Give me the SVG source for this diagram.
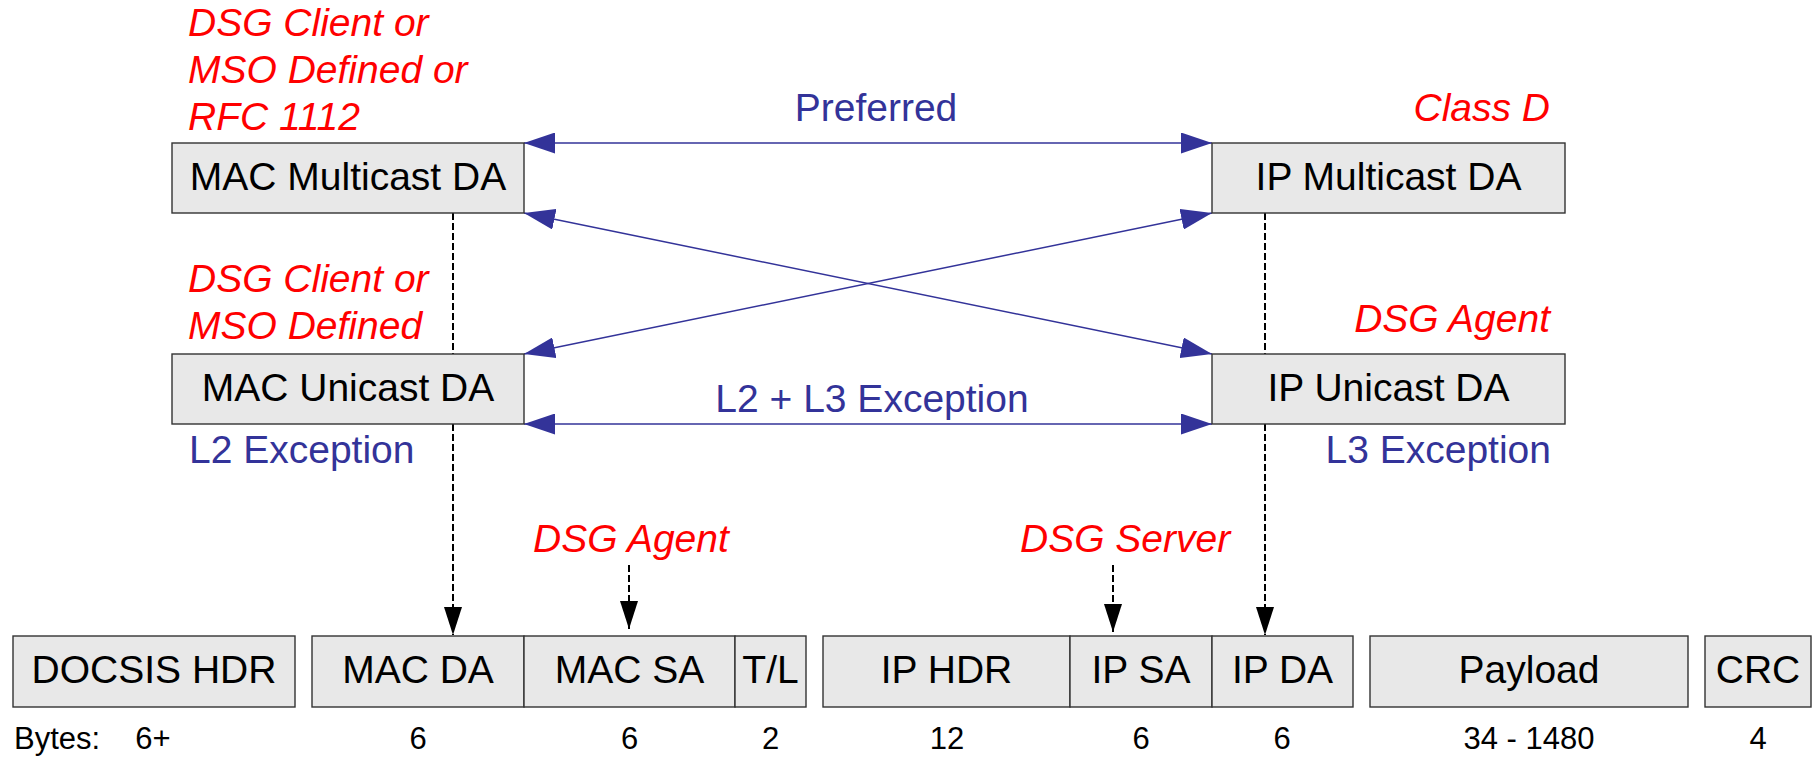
<svg xmlns="http://www.w3.org/2000/svg" width="1818" height="759" viewBox="0 0 1818 759">
<style>
.box{fill:#e8e8e8;stroke:#333;stroke-width:1.4}
.t{font-family:"Liberation Sans",Arial,sans-serif;font-size:39px;fill:#000;text-anchor:middle}
.red{font-family:"Liberation Sans",Arial,sans-serif;font-size:39px;font-style:italic;fill:#ff0000}
.blue{font-family:"Liberation Sans",Arial,sans-serif;font-size:39px;fill:#333399}
.num{font-family:"Liberation Sans",Arial,sans-serif;font-size:31px;fill:#000;text-anchor:middle}
.lead{text-anchor:start}
.bl{stroke:#333399;stroke-width:1.5;fill:none;marker-start:url(#ab);marker-end:url(#ab)}
.dash{stroke:#000;stroke-width:2;stroke-dasharray:7 3;fill:none}
.darr{stroke:#000;stroke-width:2;stroke-dasharray:7 3;fill:none;marker-end:url(#ak)}
</style>
<defs>
<marker id="ab" viewBox="0 0 31 21" refX="31" refY="10.5" markerWidth="31" markerHeight="21" markerUnits="userSpaceOnUse" orient="auto-start-reverse"><path d="M0,0 L31,10.5 L0,21 z" fill="#333399"/></marker>
<marker id="ak" viewBox="0 0 28 18" refX="28" refY="9" markerWidth="28" markerHeight="18" markerUnits="userSpaceOnUse" orient="auto"><path d="M0,0 L28,9 L0,18 z" fill="#000"/></marker>
</defs>
<rect width="1818" height="759" fill="#fff"/>

<g id="connectors">
<line class="bl" x1="524" y1="143" x2="1212" y2="143"/>
<line class="bl" x1="524" y1="213" x2="1212" y2="354"/>
<line class="bl" x1="1212" y1="213" x2="524" y2="354"/>
<line class="bl" x1="524" y1="424" x2="1212" y2="424"/>
<line class="dash" x1="453" y1="213" x2="453" y2="354"/>
<line class="darr" x1="453" y1="424" x2="453" y2="635"/>
<line class="dash" x1="1265" y1="213" x2="1265" y2="354"/>
<line class="darr" x1="1265" y1="424" x2="1265" y2="635"/>
<line class="darr" x1="629" y1="565" x2="629" y2="629"/>
<line class="darr" x1="1113" y1="565" x2="1113" y2="632"/>
</g>

<g id="labels">
<text class="red" x="188" y="36">DSG Client or</text>
<text class="red" x="188" y="83">MSO Defined or</text>
<text class="red" x="188" y="130">RFC 1112</text>
<text class="red" x="1550" y="121" text-anchor="end">Class D</text>
<text class="blue" x="876" y="121" text-anchor="middle">Preferred</text>
<text class="red" x="188" y="292">DSG Client or</text>
<text class="red" x="188" y="339">MSO Defined</text>
<text class="red" x="1550" y="332" text-anchor="end">DSG Agent</text>
<text class="blue" x="872" y="412" text-anchor="middle">L2 + L3 Exception</text>
<text class="blue" x="189" y="463">L2 Exception</text>
<text class="blue" x="1551" y="463" text-anchor="end">L3 Exception</text>
<text class="red" x="533" y="552">DSG Agent</text>
<text class="red" x="1020" y="552">DSG Server</text>
</g>

<g id="mac-multicast">
<rect class="box" x="172" y="143" width="352" height="70"/>
<text class="t" x="348" y="190">MAC Multicast DA</text>
</g>
<g id="ip-multicast">
<rect class="box" x="1212" y="143" width="353" height="70"/>
<text class="t" x="1388.5" y="190">IP Multicast DA</text>
</g>
<g id="mac-unicast">
<rect class="box" x="172" y="354" width="352" height="70"/>
<text class="t" x="348" y="401">MAC Unicast DA</text>
</g>
<g id="ip-unicast">
<rect class="box" x="1212" y="354" width="353" height="70"/>
<text class="t" x="1388.5" y="401">IP Unicast DA</text>
</g>

<g id="docsis-hdr">
<rect class="box" x="13" y="636" width="282" height="71"/>
<text class="t" x="154" y="683">DOCSIS HDR</text>
</g>
<g id="mac-da">
<rect class="box" x="312" y="636" width="212" height="71"/>
<text class="t" x="418" y="683">MAC DA</text>
</g>
<g id="mac-sa">
<rect class="box" x="524" y="636" width="211" height="71"/>
<text class="t" x="629.5" y="683">MAC SA</text>
</g>
<g id="tl">
<rect class="box" x="735" y="636" width="71" height="71"/>
<text class="t" x="770.5" y="683">T/L</text>
</g>
<g id="ip-hdr">
<rect class="box" x="823" y="636" width="247" height="71"/>
<text class="t" x="946.5" y="683">IP HDR</text>
</g>
<g id="ip-sa">
<rect class="box" x="1070" y="636" width="142" height="71"/>
<text class="t" x="1141" y="683">IP SA</text>
</g>
<g id="ip-da">
<rect class="box" x="1212" y="636" width="141" height="71"/>
<text class="t" x="1282.5" y="683">IP DA</text>
</g>
<g id="payload">
<rect class="box" x="1370" y="636" width="318" height="71"/>
<text class="t" x="1529" y="683">Payload</text>
</g>
<g id="crc">
<rect class="box" x="1705" y="636" width="106" height="71"/>
<text class="t" x="1758" y="683">CRC</text>
</g>

<g id="bytes">
<text class="num lead" x="14" y="749">Bytes:</text>
<text class="num" x="153" y="749">6+</text>
<text class="num" x="418" y="749">6</text>
<text class="num" x="629.5" y="749">6</text>
<text class="num" x="770.5" y="749">2</text>
<text class="num" x="947" y="749">12</text>
<text class="num" x="1141" y="749">6</text>
<text class="num" x="1282" y="749">6</text>
<text class="num" x="1529" y="749">34 - 1480</text>
<text class="num" x="1758" y="749">4</text>
</g>
</svg>
